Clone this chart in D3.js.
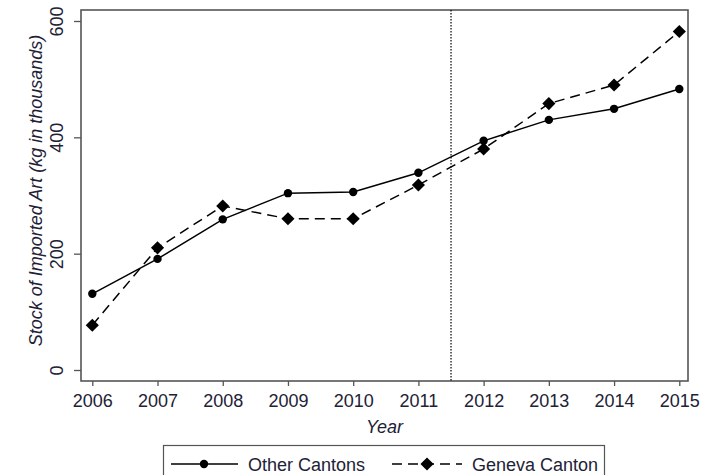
<!DOCTYPE html>
<html>
<head>
<meta charset="utf-8">
<script src="https://cdn.jsdelivr.net/npm/d3@7"></script>
<style>
  html, body { margin: 0; padding: 0; background: #fff; }
  svg { display: block; font-family: Arial, "Liberation Sans", sans-serif; }
</style>
</head>
<body>
<svg id="chart" width="707" height="475"></svg>
<script>
// Stock of imported art, thousands of kg, by year
const years = [2006, 2007, 2008, 2009, 2010, 2011, 2012, 2013, 2014, 2015];
const otherCantons = [131, 191, 259, 304, 306, 339, 394, 430, 449, 483];
const genevaCanton = [77, 210, 282, 260, 260, 318, 380, 458, 490, 582];
const yTicks = [0, 200, 400, 600];
const breakYear = 2011.5;
const seriesNames = ["Other Cantons", "Geneva Canton"];

const textColor = "#1e2236";
const svg = d3.select("#chart");

const frame = { left: 81, right: 688, top: 10, bottom: 381 };
const x = d3.scaleLinear().domain([2006, 2015]).range([92.3, 679.3]);
const y = d3.scaleLinear().domain([0, 600]).range([370, 21]);

// plot frame
svg.append("rect")
  .attr("x", frame.left).attr("y", frame.top)
  .attr("width", frame.right - frame.left).attr("height", frame.bottom - frame.top)
  .attr("fill", "none").attr("stroke", "#555").attr("stroke-width", 1.6);

// x axis ticks and labels
const xAxis = d3.axisBottom(x).tickValues(years).tickFormat(d3.format("d"))
  .tickSize(5).tickPadding(8);
const gx = svg.append("g").attr("transform", `translate(0,${frame.bottom})`).call(xAxis);
gx.select(".domain").remove();
gx.selectAll(".tick line").attr("stroke", "#555").attr("stroke-width", 1.3);
gx.selectAll(".tick text").attr("fill", textColor).style("font-size", "18px")
  .style("font-family", "Arial, 'Liberation Sans', sans-serif");

// y axis ticks and rotated labels
const yAxis = d3.axisLeft(y).tickValues(yTicks).tickSize(7).tickPadding(0).tickFormat(d3.format("d"));
const gy = svg.append("g").attr("transform", `translate(${frame.left},0)`).call(yAxis);
gy.select(".domain").remove();
gy.selectAll(".tick line").attr("stroke", "#555").attr("stroke-width", 1.3);
gy.selectAll(".tick text")
  .attr("x", null).attr("dy", null)
  .attr("transform", "translate(-18,0) rotate(-90)")
  .attr("text-anchor", "middle")
  .attr("fill", textColor).style("font-size", "18px")
  .style("font-family", "Arial, 'Liberation Sans', sans-serif");

// axis titles
svg.append("text")
  .attr("x", (frame.left + frame.right) / 2).attr("y", 433)
  .attr("text-anchor", "middle").attr("font-style", "italic")
  .attr("font-size", 18).attr("fill", textColor).text("Year");
svg.append("text")
  .attr("transform", `translate(42,${(frame.top + frame.bottom) / 2 - 5}) rotate(-90)`)
  .attr("text-anchor", "middle").attr("font-style", "italic")
  .attr("font-size", 18).attr("fill", textColor)
  .text("Stock of Imported Art (kg in thousands)");

// policy break marker
svg.append("line")
  .attr("x1", x(breakYear)).attr("x2", x(breakYear))
  .attr("y1", frame.top).attr("y2", frame.bottom)
  .attr("stroke", "#000").attr("stroke-width", 1.2).attr("stroke-dasharray", "1.5,1.5");

const line = d3.line().x((d, i) => x(years[i])).y(d => y(d));
const diamond = d3.symbol().type(d3.symbolDiamond2).size(110);

// Other Cantons: solid line, circles
svg.append("path").datum(otherCantons).attr("d", line)
  .attr("fill", "none").attr("stroke", "#000").attr("stroke-width", 1.5);
svg.append("g").selectAll("circle").data(otherCantons).join("circle")
  .attr("cx", (d, i) => x(years[i])).attr("cy", d => y(d)).attr("r", 4.2).attr("fill", "#000");

// Geneva Canton: dashed line, diamonds
svg.append("path").datum(genevaCanton).attr("d", line)
  .attr("fill", "none").attr("stroke", "#000").attr("stroke-width", 1.5)
  .attr("stroke-dasharray", "10,6");
svg.append("g").selectAll("path").data(genevaCanton).join("path")
  .attr("d", diamond)
  .attr("transform", (d, i) => `translate(${x(years[i])},${y(d)})`).attr("fill", "#000");

// legend
const lg = svg.append("g");
lg.append("rect").attr("x", 163.5).attr("y", 445.5).attr("width", 441).attr("height", 40)
  .attr("fill", "#fff").attr("stroke", "#555").attr("stroke-width", 1.2);
const ly = 464;
lg.append("line").attr("x1", 171).attr("x2", 238).attr("y1", ly).attr("y2", ly)
  .attr("stroke", "#000").attr("stroke-width", 1.5);
lg.append("circle").attr("cx", 204).attr("cy", ly).attr("r", 4.2).attr("fill", "#000");
lg.append("text").attr("x", 248).attr("y", ly + 6.5).attr("font-size", 18)
  .attr("fill", textColor).text(seriesNames[0]);
lg.append("line").attr("x1", 392).attr("x2", 462).attr("y1", ly).attr("y2", ly)
  .attr("stroke", "#000").attr("stroke-width", 1.5).attr("stroke-dasharray", "10,6");
lg.append("path").attr("d", diamond).attr("transform", `translate(427,${ly})`).attr("fill", "#000");
lg.append("text").attr("x", 472).attr("y", ly + 6.5).attr("font-size", 18)
  .attr("fill", textColor).text(seriesNames[1]);
</script>
</body>
</html>
